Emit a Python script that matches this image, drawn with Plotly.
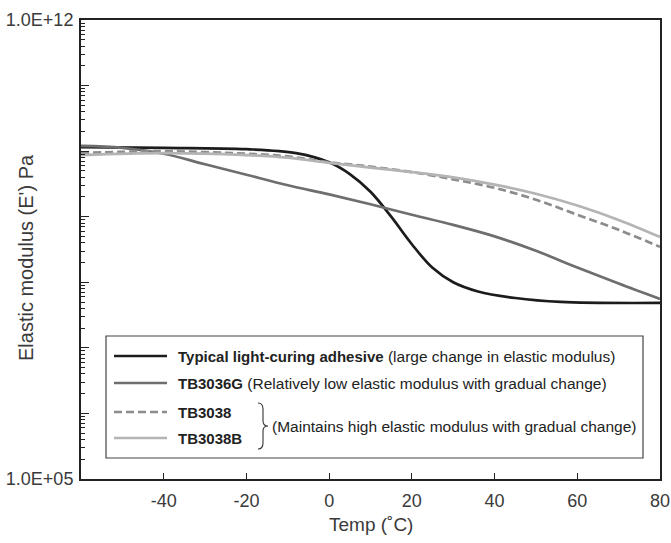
import plotly.graph_objects as go

# ---- data (temperature in °C, log10 of E' in Pa) ----
t_typ = [-60, -40, -20, -8, 0, 5, 10, 15, 20, 25, 30, 36, 45, 56, 80]
e_typ = [10.06, 10.05, 10.03, 9.97, 9.83, 9.65, 9.38, 9.00, 8.58, 8.22, 8.00, 7.86, 7.76, 7.70, 7.685]

t_g = [-60, -50, -40, -30, -20, -10, 0, 10, 20, 30, 40, 50, 60, 70, 80]
e_g = [10.08, 10.05, 9.96, 9.80, 9.64, 9.48, 9.34, 9.19, 9.03, 8.875, 8.70, 8.48, 8.225, 7.98, 7.745]

t_38 = [-60, -50, -40, -20, -10, 0, 10, 20, 30, 40, 50, 60, 70, 80]
e_38 = [9.97, 9.99, 10.0, 9.96, 9.92, 9.83, 9.765, 9.68, 9.57, 9.44, 9.26, 9.03, 8.80, 8.54]

t_38b = [-60, -40, -20, -10, 0, 10, 20, 30, 40, 50, 60, 70, 80]
e_38b = [9.94, 9.97, 9.94, 9.90, 9.82, 9.75, 9.68, 9.60, 9.49, 9.35, 9.17, 8.95, 8.69]

x_ticks = [-40, -20, 0, 20, 40, 60, 80]
x_ticktext = ["-40", "-20", "0", "20", "40", "60", "80"]
y_decades = [5, 6, 7, 8, 9, 10, 11, 12]
y_ticktext = ["1.0E+05", "", "", "", "", "", "", "1.0E+12"]

legend_bold = ["Typical light-curing adhesive", "TB3036G", "TB3038", "TB3038B"]
legend_rest = [" (large change in elastic modulus)",
               " (Relatively low elastic modulus with gradual change)", "", ""]
group_note = "(Maintains high elastic modulus with gradual change)"
x_title = "Temp (˚C)"
y_title = "Elastic modulus (E') Pa"

colors = ["#1c1c1c", "#6e6e6e", "#8c8c8c", "#b4b4b4"]
dashes = ["solid", "solid", "8px,4px", "solid"]

FONT = "Liberation Sans, Arial, sans-serif"
TXT = "#3a3a3a"

fig = go.Figure()
series = [(t_typ, e_typ), (t_g, e_g), (t_38, e_38), (t_38b, e_38b)]
for (t, e), c, d in zip(series, colors, dashes):
    fig.add_trace(go.Scatter(x=t, y=[10 ** v for v in e], mode="lines",
                             line=dict(color=c, width=2.7, dash=d, shape="spline", smoothing=1.0),
                             showlegend=False, hoverinfo="skip"))

# plot-area geometry (pixels) for placing legend decorations
L, R, T, B = 81, 660, 20, 479
W, H = 671, 543
def px(x):
    return (x - L) / (R - L)
def py(y):
    return (B - y) / (B - T)

shapes = []
annotations = []
# legend box
shapes.append(dict(type="rect", xref="paper", yref="paper", x0=px(106), x1=px(643), y0=py(458), y1=py(336),
                   line=dict(color="#444", width=1.2), fillcolor="white", layer="above"))
rows = [356, 383, 412, 438]
for nb, nr, c, d, ry in zip(legend_bold, legend_rest, colors, dashes, rows):
    shapes.append(dict(type="line", xref="paper", yref="paper", x0=px(114), x1=px(167), y0=py(ry), y1=py(ry),
                       line=dict(color=c, width=2.7, dash=d), layer="above"))
    text = f"<span style='font-size:15px'><b>{nb}</b></span>{nr}"
    annotations.append(dict(xref="paper", yref="paper", x=px(176), y=py(ry), text=text, showarrow=False,
                            xanchor="left", yanchor="middle", font=dict(family=FONT, size=15.5, color="#222")))
# brace
bx, by0, by1 = 258, 403, 449
bm = (by0 + by1) / 2
path = (f"M {px(bx)},{py(by0)} Q {px(bx+5)},{py(by0)} {px(bx+5)},{py(by0+6)} "
        f"L {px(bx+5)},{py(bm-5)} Q {px(bx+5)},{py(bm)} {px(bx+10)},{py(bm)} "
        f"Q {px(bx+5)},{py(bm)} {px(bx+5)},{py(bm+5)} "
        f"L {px(bx+5)},{py(by1-6)} Q {px(bx+5)},{py(by1)} {px(bx)},{py(by1)}")
shapes.append(dict(type="path", xref="paper", yref="paper", path=path,
                   line=dict(color="#333", width=1.1), layer="above"))
annotations.append(dict(xref="paper", yref="paper", x=px(270), y=py(bm), text=group_note, showarrow=False,
                        xanchor="left", yanchor="middle", font=dict(family=FONT, size=15.5, color="#222")))
# axis titles
annotations.append(dict(xref="paper", yref="paper", x=0.5, y=py(524), text=x_title, showarrow=False,
                        xanchor="center", yanchor="middle", font=dict(family=FONT, size=19, color=TXT)))
annotations.append(dict(xref="paper", yref="paper", x=px(26), y=py(258), text=y_title, showarrow=False,
                        textangle=-90, xanchor="center", yanchor="middle",
                        font=dict(family=FONT, size=20, color=TXT)))

minor_vals = [m * 10 ** d for d in range(5, 12) for m in range(2, 10)]

fig.update_layout(
    width=W, height=H,
    margin=dict(l=L, r=W - R, t=T, b=H - B),
    paper_bgcolor="white", plot_bgcolor="white",
    font=dict(family=FONT, color=TXT),
    shapes=shapes, annotations=annotations,
    xaxis=dict(range=[-60, 80], tickvals=x_ticks, ticktext=x_ticktext, ticks="inside", ticklen=6,
               tickwidth=1.2, tickcolor="#222", automargin=False, ticklabelstandoff=4,
               showline=True, linecolor="#222", linewidth=2, mirror=True, showgrid=False, zeroline=False,
               tickfont=dict(size=18, color=TXT)),
    yaxis=dict(type="log", range=[5, 12], tickvals=[10 ** d for d in y_decades], ticktext=y_ticktext,
               ticks="inside", ticklen=8, tickwidth=1.2, tickcolor="#222", automargin=False,
               ticklabelstandoff=2,
               minor=dict(tickvals=minor_vals, ticks="inside", ticklen=4, tickwidth=1, tickcolor="#222"),
               showline=True, linecolor="#222", linewidth=2, mirror=True, showgrid=False, zeroline=False,
               tickfont=dict(size=18, color=TXT)),
)

fig.write_html("out.html")
